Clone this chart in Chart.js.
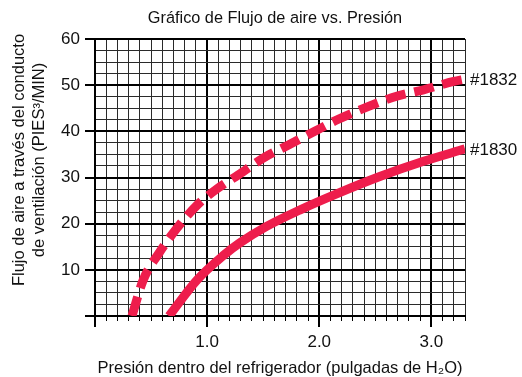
<!DOCTYPE html>
<html>
<head>
<meta charset="utf-8">
<script src="https://cdn.jsdelivr.net/npm/chart.js@4"></script>
<style>
  html, body { margin: 0; padding: 0; background: #fff; }
  #wrap { width: 522px; height: 377px; }
</style>
</head>
<body>
<div id="wrap"><canvas id="myChart" width="522" height="377"></canvas></div>
<script>
// data
const pressure1832 = [0.33, 0.43, 0.57, 0.73, 0.91, 1.08, 1.28, 1.5, 1.73, 1.96, 2.16, 2.44, 2.69, 2.93, 3.2, 3.3]
const flow1832 = [0, 7.8, 13.6, 19, 24, 27.4, 30.6, 34.2, 37.1, 40, 42.5, 45.4, 47.6, 49, 50.8, 51.3]
const pressure1830 = [0.66, 0.91, 1.15, 1.29, 1.53, 1.83, 2.16, 2.54, 2.93, 3.3]
const flow1830 = [0, 7.8, 13.2, 15.8, 19.4, 23, 26.5, 30.2, 33.5, 36.2]
const seriesNames = ["#1832", "#1830"]
const xTickLabels = ["1.0", "2.0", "3.0"]
const yTickLabels = ["10", "20", "30", "40", "50", "60"]

const titleText = "Gráfico de Flujo de aire vs. Presión"
const yTitle = ["Flujo de aire a través del conducto", "de ventilación (PIES³/MIN)"]
const xTitle = "Presión dentro del refrigerador (pulgadas de H₂O)"

const red = "#ee1d4c"
const isWhole = (v, step) => Math.abs(v / step - Math.round(v / step)) < 1e-6

function toPoints(xs, ys) {
  return xs.map((x, i) => ({ x: x, y: ys[i] }))
}

// titles and end labels
const extras = {
  id: "extras",
  afterDraw(chart) {
    const c = chart.ctx
    const xs = chart.scales.x
    const ys = chart.scales.y
    const area = chart.chartArea
    c.save()
    // longer ticks at whole numbers on the x axis
    c.strokeStyle = "#000"
    c.lineWidth = 2
    ;[0, 1, 2, 3].forEach(v => {
      const px = Math.round(xs.getPixelForValue(v))
      c.beginPath()
      c.moveTo(px, area.bottom)
      c.lineTo(px, area.bottom + 11)
      c.stroke()
    })
    c.fillStyle = "#111"
    c.textAlign = "center"
    c.textBaseline = "middle"
    c.font = "16.3px 'Liberation Sans', Arial, sans-serif"
    c.fillText(titleText, 275, 19)
    c.font = "16.5px 'Liberation Sans', Arial, sans-serif"
    c.fillText(xTitle, 280, 368)
    c.save()
    c.translate(19, 160)
    c.rotate(-Math.PI / 2)
    c.fillText(yTitle[0], 0, 0)
    c.fillText(yTitle[1], 0, 20)
    c.restore()
    // series names at the right end of each curve
    c.font = "17px 'Liberation Sans', Arial, sans-serif"
    c.textAlign = "left"
    chart.data.datasets.forEach(ds => {
      const last = ds.data[ds.data.length - 1]
      c.fillText(ds.label, xs.getPixelForValue(last.x) + 5, ys.getPixelForValue(last.y) + 1.5)
    })
    c.restore()
  },
}

const ctx = document.getElementById("myChart").getContext("2d")
const myChart = new Chart(ctx, {
  type: "scatter",
  data: {
    datasets: [
      {
        label: seriesNames[0],
        data: toPoints(pressure1832, flow1832),
        showLine: true,
        borderColor: red,
        borderWidth: 9,
        borderDash: [20, 9],
        borderCapStyle: "butt",
        cubicInterpolationMode: "monotone",
        pointRadius: 0,
        clip: 0,
      },
      {
        label: seriesNames[1],
        data: toPoints(pressure1830, flow1830),
        showLine: true,
        borderColor: red,
        borderWidth: 9,
        borderCapStyle: "butt",
        cubicInterpolationMode: "monotone",
        pointRadius: 0,
        clip: 0,
      },
    ],
  },
  options: {
    responsive: false,
    animation: false,
    events: [],
    layout: { padding: { top: 39, right: 57, left: 0, bottom: 0 } },
    plugins: {
      legend: { display: false },
      title: { display: false },
      tooltip: { enabled: false },
    },
    scales: {
      x: {
        type: "linear",
        min: 0,
        max: 3.3,
        afterFit: scale => { scale.height = 61 },
        border: { color: "#000", width: 2 },
        grid: {
          color: c => isWhole(c.tick.value, 1) ? "#000" : "#2a2a2a",
          lineWidth: c => isWhole(c.tick.value, 1) ? 2 : 1,
          tickLength: 5,
          tickColor: "#000",
          tickWidth: 1,
        },
        ticks: {
          stepSize: 0.1,
          autoSkip: false,
          maxRotation: 0,
          padding: 11,
          color: "#111",
          font: { family: "'Liberation Sans', Arial, sans-serif", size: 17 },
          callback: v => {
            const i = xTickLabels.indexOf(Number(v).toFixed(1))
            return isWhole(v, 1) && i >= 0 ? xTickLabels[i] : ""
          },
        },
      },
      y: {
        min: 0,
        max: 60,
        afterFit: scale => { scale.width = 95 },
        border: { color: "#000", width: 2 },
        grid: {
          color: c => isWhole(c.tick.value, 10) ? "#000" : "#2a2a2a",
          lineWidth: c => isWhole(c.tick.value, 10) ? 2 : 1,
          tickLength: 10,
          tickColor: c => isWhole(c.tick.value, 10) ? "#000" : "rgba(0,0,0,0)",
          tickWidth: 2,
        },
        ticks: {
          stepSize: 2.5,
          autoSkip: false,
          padding: 5,
          color: "#111",
          font: { family: "'Liberation Sans', Arial, sans-serif", size: 17 },
          callback: v => {
            const s = String(Math.round(v))
            return isWhole(v, 10) && yTickLabels.includes(s) ? s : ""
          },
        },
      },
    },
  },
  plugins: [extras],
})
</script>
</body>
</html>
